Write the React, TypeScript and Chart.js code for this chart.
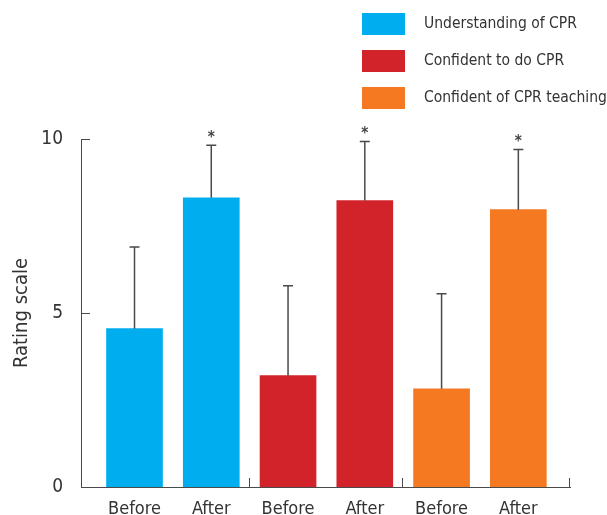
import React, { useEffect, useRef } from 'react';
import { Chart, registerables } from 'chart.js';

Chart.register(...registerables);

const categories = ['Before', 'After', 'Before', 'After', 'Before', 'After'];
const means = [4.55, 8.31, 3.2, 8.23, 2.82, 7.97];
const sds = [2.35, 1.51, 2.58, 1.7, 2.73, 1.73];
const significant = [false, true, false, true, false, true];
const seriesNames = ['Understanding of CPR', 'Confident to do CPR', 'Confident of CPR teaching'];
const seriesColors = ['#00AEEF', '#D2232A', '#F47920'];
const yTicks = [0, 5, 10];
const groupBoundaries = [1.5, 3.5];

const FONT = "'Liberation Sans Narrow', 'DejaVu Sans Condensed', Lato, sans-serif";
const TEXT = '#333333';
const AXIS = '#4a4a4a';

const decorPlugin = {
  id: 'decor',
  afterDatasetsDraw(chart: any) {
    const { ctx, scales } = chart;
    const x = scales.x;
    const y = scales.y;
    ctx.save();
    ctx.strokeStyle = AXIS;
    ctx.lineWidth = 1.5;
    means.forEach((m, i) => {
      const px = x.getPixelForValue(i);
      const base = y.getPixelForValue(m);
      const top = y.getPixelForValue(m + sds[i]);
      ctx.beginPath();
      ctx.moveTo(px, base);
      ctx.lineTo(px, top);
      ctx.moveTo(px - 5, top);
      ctx.lineTo(px + 5, top);
      ctx.stroke();
      if (significant[i]) {
        ctx.fillStyle = '#444';
        ctx.font = `bold 15px ${FONT}`;
        ctx.textAlign = 'center';
        ctx.textBaseline = 'alphabetic';
        ctx.fillText('*', px, top - 3);
      }
    });
    ctx.restore();
  },
  afterDraw(chart: any) {
    const { ctx, scales, chartArea } = chart;
    const x = scales.x;
    const y = scales.y;
    ctx.save();
    ctx.strokeStyle = AXIS;
    ctx.lineWidth = 1;
    ctx.beginPath();
    yTicks.forEach((v) => {
      const py = Math.round(y.getPixelForValue(v)) + 0.5;
      ctx.moveTo(chartArea.left, py);
      ctx.lineTo(chartArea.left + 9, py);
    });
    [...groupBoundaries.map((v) => x.getPixelForValue(v)), chartArea.right].forEach((p) => {
      const px = Math.round(p) - 0.5;
      ctx.moveTo(px, chartArea.bottom);
      ctx.lineTo(px, chartArea.bottom - 9);
    });
    ctx.stroke();

    // legend
    seriesNames.forEach((name, i) => {
      const top = 13 + i * 37;
      ctx.fillStyle = seriesColors[i];
      ctx.fillRect(362, top, 43, 22);
      ctx.fillStyle = TEXT;
      ctx.font = `15.5px ${FONT}`;
      ctx.textAlign = 'left';
      ctx.textBaseline = 'middle';
      ctx.fillText(name, 424, top + 11);
    });
    ctx.restore();
  },
};

export default function App() {
  const ref = useRef<HTMLCanvasElement>(null);
  useEffect(() => {
    if (!ref.current) return;
    const chart = new Chart(ref.current, {
      type: 'bar',
      data: {
        datasets: [
          {
            data: means.map((v, i) => ({ x: i, y: v })),
            backgroundColor: categories.map((_, i) => seriesColors[Math.floor(i / 2)]),
            barThickness: 56,
            borderWidth: 0,
          },
        ],
      },
      options: {
        animation: false,
        responsive: true,
        maintainAspectRatio: false,
        layout: { padding: { top: 139, right: 37, left: 0, bottom: 0 } },
        plugins: { legend: { display: false }, tooltip: { enabled: false } },
        scales: {
          x: {
            type: 'linear',
            offset: false,
            min: -0.697,
            max: 5.673,
            afterBuildTicks: (s: any) => {
              s.ticks = categories.map((_, i) => ({ value: i }));
            },
            afterFit: (s: any) => {
              s.height = 28;
            },
            grid: { display: false, offset: false },
            border: { display: true, color: AXIS, width: 1 },
            ticks: {
              callback: (v: any) => categories[v as number] ?? '',
              color: TEXT,
              font: { family: FONT, size: 18 },
              padding: 4,
              maxRotation: 0,
              autoSkip: false,
            },
          },
          y: {
            min: 0,
            max: 10,
            afterBuildTicks: (s: any) => {
              s.ticks = yTicks.map((v) => ({ value: v }));
            },
            afterFit: (s: any) => {
              s.width = 81;
            },
            grid: { display: false },
            border: { display: true, color: AXIS, width: 1 },
            ticks: {
              color: TEXT,
              font: { family: FONT, size: 19 },
              padding: 10,
            },
            title: {
              display: true,
              text: 'Rating scale',
              color: TEXT,
              font: { family: FONT, size: 20 },
              padding: { top: 10, bottom: 0 },
            },
          },
        },
      },
      plugins: [decorPlugin],
    });
    return () => chart.destroy();
  }, []);
  return (
    <div style={{ position: 'fixed', left: 0, top: 0, width: 607, height: 515 }}>
      <canvas ref={ref} />
    </div>
  );
}
